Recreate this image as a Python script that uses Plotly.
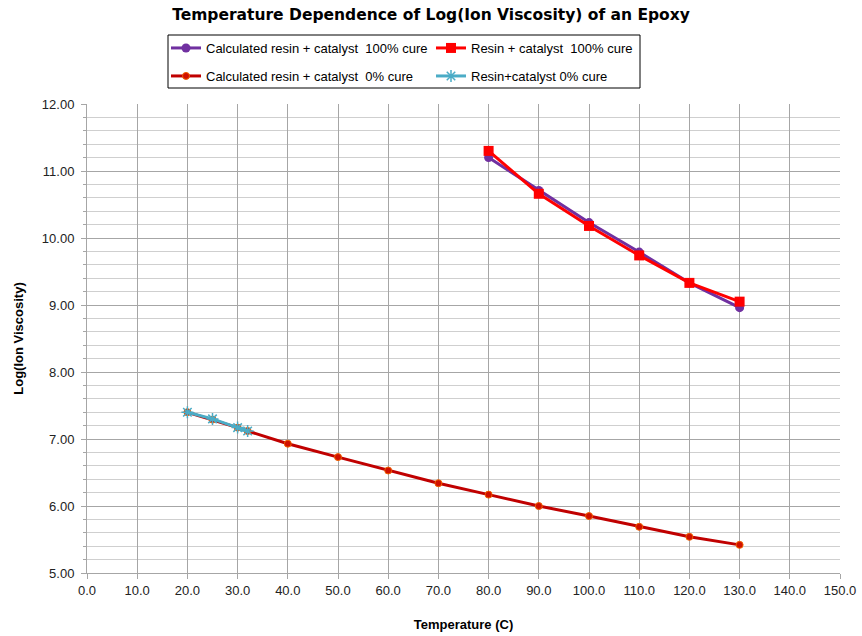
import plotly.graph_objects as go

# Data
temp_100 = [80, 90, 100, 110, 120, 130]
calc_100 = [11.20, 10.71, 10.23, 9.79, 9.33, 8.96]
resin_100 = [11.30, 10.66, 10.18, 9.74, 9.33, 9.05]

temp_calc0 = [20, 25, 30, 32, 40, 50, 60, 70, 80, 90, 100, 110, 120, 130]
calc_0 = [7.40, 7.29, 7.17, 7.12, 6.93, 6.73, 6.53, 6.34, 6.17, 6.00, 5.85, 5.69, 5.54, 5.42]

temp_resin0 = [20, 25, 30, 32]
resin_0 = [7.40, 7.30, 7.17, 7.12]

x_ticks = [0, 10, 20, 30, 40, 50, 60, 70, 80, 90, 100, 110, 120, 130, 140, 150]
y_ticks = [5, 6, 7, 8, 9, 10, 11, 12]

W, H = 862, 636
L, R, T, B = 87, 22, 104, 63
PW, PH = W - L - R, H - T - B


def px_x(p):
    return (p - L) / PW


def px_y(p):
    return (H - B - p) / PH


fig = go.Figure()
fig.add_trace(go.Scatter(
    x=temp_100, y=calc_100, name="Calculated resin + catalyst  100% cure", legend="legend",
    mode="lines+markers", line=dict(color="#7030A0", width=3),
    marker=dict(symbol="circle", size=9, color="#7030A0")))
fig.add_trace(go.Scatter(
    x=temp_100, y=resin_100, name="Resin + catalyst  100% cure", legend="legend",
    mode="lines+markers", line=dict(color="#FF0000", width=3),
    marker=dict(symbol="square", size=10, color="#FF0000")))
fig.add_trace(go.Scatter(
    x=temp_calc0, y=calc_0, name="Calculated resin + catalyst  0% cure", legend="legend2",
    mode="lines+markers", line=dict(color="#C00000", width=3),
    marker=dict(symbol="circle", size=7, color="#D01000", line=dict(color="#F06000", width=1))))
fig.add_trace(go.Scatter(
    x=temp_resin0, y=resin_0, name="Resin+catalyst 0% cure", legend="legend2",
    mode="lines+markers", line=dict(color="#4BACC6", width=3),
    marker=dict(symbol="asterisk-open", size=10, color="#4BACC6", line=dict(color="#4BACC6", width=1.5))))

leg_common = dict(orientation="h", xanchor="left", yanchor="middle",
                  bgcolor="rgba(0,0,0,0)", borderwidth=0,
                  font=dict(family="Liberation Sans", size=13, color="black"),
                  entrywidth=220, itemwidth=30, xref="paper", yref="paper")

fig.update_layout(
    width=W, height=H,
    margin=dict(l=L, r=R, t=T, b=B),
    paper_bgcolor="white", plot_bgcolor="white",
    font=dict(family="Liberation Sans", size=13, color="#222"),
    title=dict(text="<b>Temperature Dependence of Log(Ion Viscosity) of an Epoxy</b>",
               x=0.5, xref="container", xanchor="center", y=1 - 15 / H, yref="container",
               yanchor="middle",
               font=dict(family="DejaVu Sans", size=15.5, color="black")),
    legend=dict(**leg_common, x=px_x(166), y=px_y(48)),
    legend2=dict(**leg_common, x=px_x(166), y=px_y(76)),
    showlegend=True,
    shapes=[dict(type="rect", xref="paper", yref="paper",
                 x0=px_x(168), x1=px_x(640), y0=px_y(88), y1=px_y(35),
                 line=dict(color="black", width=1), fillcolor="rgba(0,0,0,0)")],
)

fig.update_xaxes(
    range=[0, 150], tickvals=x_ticks, ticktext=[f"{v:.1f}" for v in x_ticks],
    showgrid=True, gridcolor="#A6A6A6", gridwidth=1,
    showline=True, linecolor="#A6A6A6", linewidth=1,
    ticks="outside", ticklen=5, tickcolor="#A6A6A6",
    zeroline=False, automargin=False,
    title=dict(text="<b>Temperature (C)</b>", standoff=23, font=dict(size=13, color="black")),
)
fig.update_yaxes(
    range=[5, 12], tickvals=y_ticks, ticktext=[f"{v:.2f}" for v in y_ticks],
    showgrid=True, gridcolor="#A6A6A6", gridwidth=1,
    showline=True, linecolor="#A6A6A6", linewidth=1,
    ticks="outside", ticklen=5, tickcolor="#A6A6A6", ticklabelstandoff=4,
    minor=dict(dtick=0.2, showgrid=True, gridcolor="#CFCFCF", gridwidth=1,
               ticks="outside", ticklen=3, tickcolor="#A6A6A6"),
    zeroline=False, automargin=False,
    title=dict(text="<b>Log(Ion Viscosity)</b>", standoff=15, font=dict(size=13, color="black")),
)

fig.write_html("out.html", config={"displayModeBar": False},
               post_script="document.body.style.margin='0';")
